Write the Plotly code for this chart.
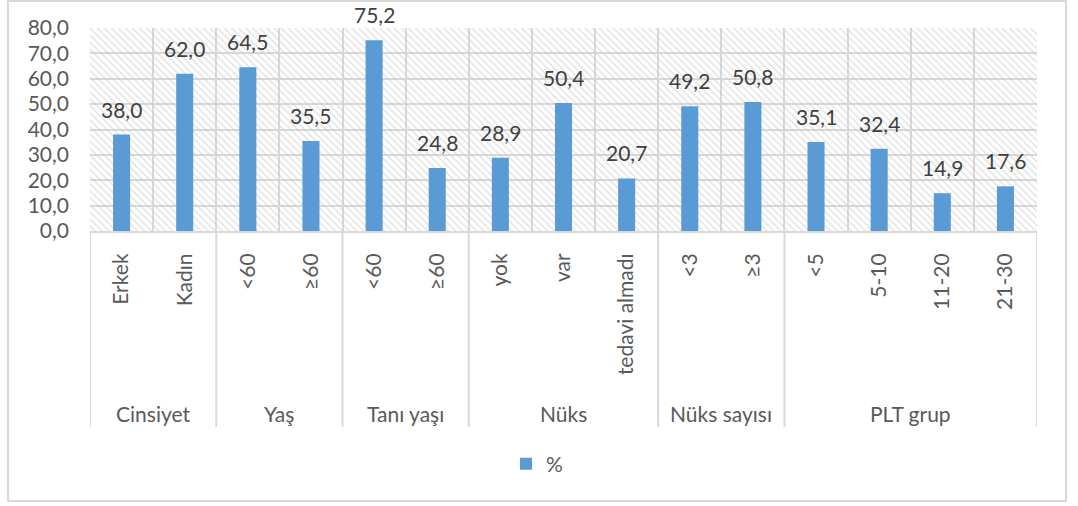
import plotly.graph_objects as go

groups = ["Cinsiyet", "Yaş", "Tanı yaşı", "Nüks", "Nüks sayısı", "PLT grup"]
group_sizes = [2, 2, 2, 3, 2, 4]
categories = ["Erkek", "Kadın", "<60", "≥60", "<60", "≥60", "yok", "var",
              "tedavi almadı", "<3", "≥3", "<5", "5-10", "11-20", "21-30"]
values = [38.0, 62.0, 64.5, 35.5, 75.2, 24.8, 28.9, 50.4, 20.7, 49.2, 50.8,
          35.1, 32.4, 14.9, 17.6]
series_name = "%"
y_ticks = [0, 10, 20, 30, 40, 50, 60, 70, 80]

FONT = "Lato"
TXT = "#595959"
GRID = "#d9d9d9"
BLUE = "#5B9BD5"
FS = 21

idx = list(range(len(categories)))
ymax = y_ticks[-1]

fig = go.Figure()
# hatched plot-area background
fig.add_trace(go.Bar(
    x=idx, y=[ymax] * len(idx), width=1, showlegend=False, hoverinfo="skip",
    marker=dict(color="rgba(0,0,0,0)", line=dict(width=0),
                pattern=dict(shape="\\", fgcolor="#c8c8c8", bgcolor="rgba(0,0,0,0)",
                             size=5, solidity=0.3)),
))
fig.add_trace(go.Bar(
    x=idx, y=values, width=0.27, name=series_name,
    marker=dict(color=BLUE, line=dict(width=0)),
))

annotations = []
for i, v in zip(idx, values):
    annotations.append(dict(x=i, y=v, xref="x", yref="y", text=f"{v:.1f}".replace(".", ","),
                            showarrow=False, yanchor="bottom", yshift=11,
                            font=dict(family=FONT, size=FS, color="#404040")))

shapes = []
start = 0
bounds = [-0.5]
for g, n in zip(groups, group_sizes):
    lo, hi = start - 0.5, start + n - 0.5
    bounds.append(hi)
    annotations.append(dict(x=(lo + hi) / 2, y=-0.897, xref="x", yref="paper", text=g,
                            showarrow=False, yanchor="middle",
                            font=dict(family=FONT, size=FS, color=TXT)))
    start += n
for b in bounds:
    shapes.append(dict(type="line", xref="x", yref="paper", x0=b, x1=b, y0=0, y1=-0.9655,
                       line=dict(color=GRID, width=2)))
# outer chart border
shapes.append(dict(type="rect", xref="paper", yref="paper",
                   x0=(8 - 90) / 947, x1=(1066 - 90) / 947,
                   y0=(231 - 501) / 203, y1=(231 - 1) / 203,
                   line=dict(color=GRID, width=2), layer="below"))

fig.update_layout(
    width=1078, height=506,
    margin=dict(l=90, r=41, t=28, b=275),
    paper_bgcolor="white", plot_bgcolor="white",
    barmode="overlay", separators=",.",
    font=dict(family=FONT, size=FS, color=TXT),
    shapes=shapes, annotations=annotations,
    showlegend=True,
    legend=dict(orientation="h", x=(506 - 90) / 947, xanchor="left",
                y=(231 - 464) / 203, yanchor="middle",
                font=dict(family=FONT, size=FS, color=TXT)),
    xaxis=dict(range=[-0.5, len(idx) - 0.5], tickmode="array", tickvals=idx,
               ticktext=categories, tickangle=-90, showgrid=False, zeroline=False,
               showline=True, linecolor=GRID, linewidth=2, ticks="",
               ticklabelstandoff=12,
               tickfont=dict(family=FONT, size=FS, color=TXT),
               minor=dict(tickvals=bounds + [i - 0.5 for i in idx], showgrid=True,
                          gridcolor=GRID, gridwidth=2, ticks="")),
    yaxis=dict(range=[0, ymax], tickmode="array", tickvals=y_ticks, tickformat=".1f",
               showgrid=True, gridcolor=GRID, gridwidth=2, zeroline=False,
               showline=False, ticks="", ticklabelstandoff=20,
               tickfont=dict(family=FONT, size=FS, color=TXT)),
)

fig.write_html("out.html")
